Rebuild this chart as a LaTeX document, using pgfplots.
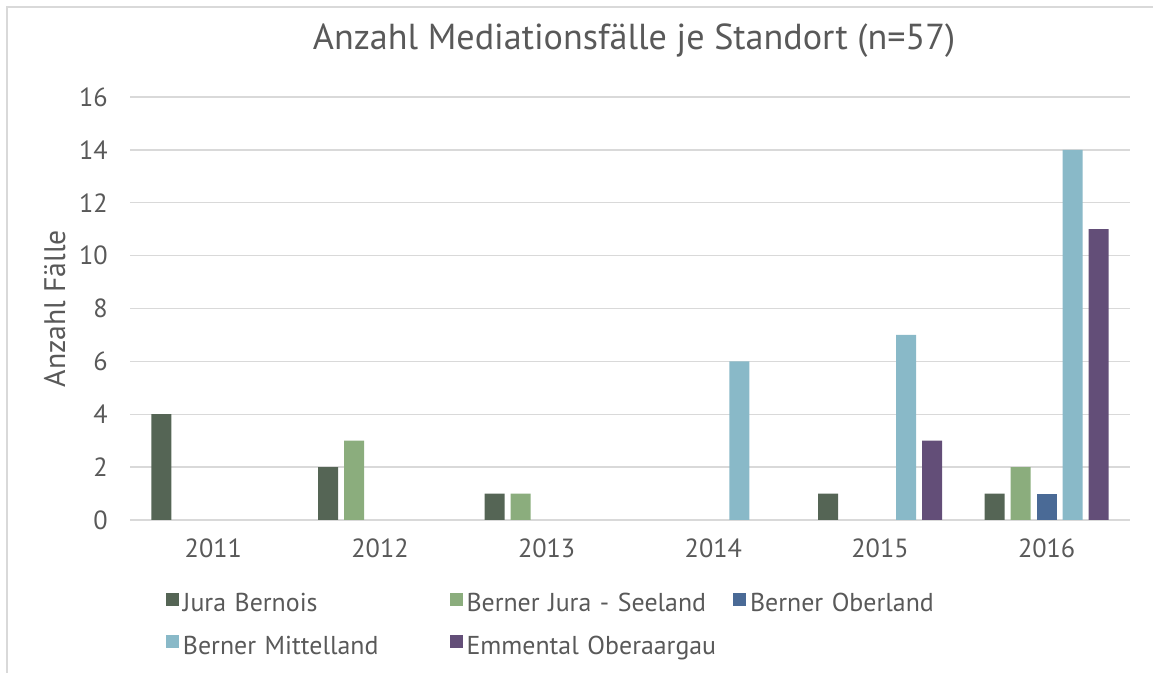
\documentclass[border=0pt]{standalone}
\usepackage{pgfplots}
\pgfplotsset{compat=1.18}
\usepackage{fontspec}
\setmainfont{PT Sans}
\definecolor{txt}{HTML}{595959}
\definecolor{gridc}{HTML}{D9D9D9}
\definecolor{cJura}{HTML}{556555}
\definecolor{cSee}{HTML}{8BAD7D}
\definecolor{cOber}{HTML}{4A6A96}
\definecolor{cMitt}{HTML}{89B9C8}
\definecolor{cEmm}{HTML}{634E78}
\begin{document}
\begin{tikzpicture}[x=1pt,y=1pt]
\useasboundingbox (0,0) rectangle (864.75,504.75);
\draw[gridc, line width=1pt] (5.25,0) -- (5.25,499.5) -- (864.75,499.5);
\begin{axis}[
  at={(97.5pt,114.75pt)}, anchor=south west,
  scale only axis, width=750pt, height=317.25pt,
  xmin=-0.5, xmax=5.5, ymin=0, ymax=16,
  ybar=4.5pt, bar width=15pt,
  axis line style={draw=none},
  ytick={0,2,...,16},
  xtick={0,1,2,3,4,5}, xticklabels={2011,2012,2013,2014,2015,2016},
  major tick length=0pt,
  ymajorgrids, grid style={gridc, line width=1.1pt},
  /pgf/number format/assume math mode=true,
  yticklabel style={font=\fontsize{19.7}{20}\selectfont, text=txt, anchor=east, inner sep=0pt, xshift=-16.5pt},
  xticklabel style={font=\fontsize{19.7}{20}\selectfont, text=txt, anchor=base, inner sep=0pt, yshift=-28.5pt},
  ylabel={Anzahl Fälle},
  every axis y label/.style={at={(rel axis cs:0,0.5)}, xshift=-48.75pt, rotate=90, anchor=base, inner sep=0pt, font=\fontsize{22.3}{24}\selectfont, text=txt},
  legend columns=3,
  legend style={at={(rel axis cs:0,0)}, anchor=north west, xshift=27pt, yshift=-54.75pt, draw=none, fill=none, inner sep=0pt, outer sep=0pt, row sep=13.5pt,
    nodes={inner sep=0pt, outer sep=0pt, text=txt, font=\fontsize{19.4}{20}\selectfont, text width=199.9pt, align=left, text height=13pt, text depth=4pt},
    /tikz/every odd column/.append style={column sep=3pt}},
  legend image code/.code={\fill[#1] (0pt,0pt) rectangle (9.75pt,9.75pt);},
]
\addplot[fill=cJura, draw=none] coordinates {(0,4) (1,2) (2,1) (4,1) (5,1)};
\addplot[fill=cSee, draw=none] coordinates {(1,3) (2,1) (5,2)};
\addplot[fill=cOber, draw=none] coordinates {(5,1)};
\addplot[fill=cMitt, draw=none] coordinates {(3,6) (4,7) (5,14)};
\addplot[fill=cEmm, draw=none] coordinates {(4,3) (5,11)};
\legend{Jura Bernois, Berner Jura - Seeland, Berner Oberland, Berner Mittelland, Emmental Oberaargau}
\end{axis}
\node[anchor=base, inner sep=0pt, text=txt, font=\fontsize{27.1}{30}\selectfont] at (475.5,467.25) {Anzahl Mediationsfälle je Standort (n=57)};
\end{tikzpicture}
\end{document}
